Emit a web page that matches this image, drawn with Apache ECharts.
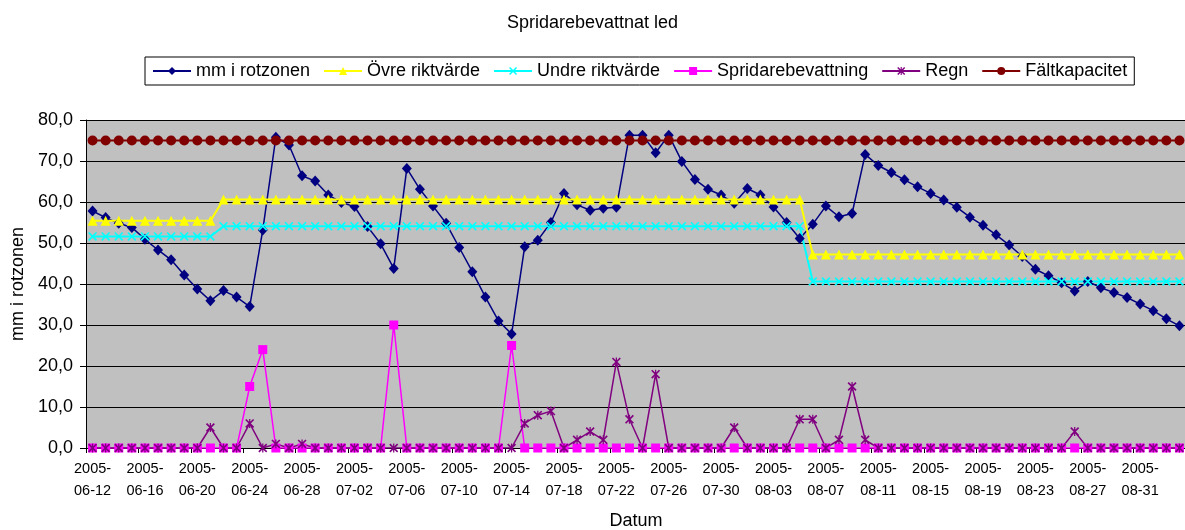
<!DOCTYPE html>
<html>
<head>
<meta charset="utf-8">
<script src="https://cdn.jsdelivr.net/npm/echarts@6/dist/echarts.min.js"></script>
<style>
  html, body { margin: 0; padding: 0; background: #fff; }
  #chart { width: 1185px; height: 530px; }
</style>
</head>
<body>
<div id="chart"></div>
<script>
// datum, en punkt per dag
var dates = [
  "2005-06-12","2005-06-13","2005-06-14","2005-06-15","2005-06-16","2005-06-17","2005-06-18",
  "2005-06-19","2005-06-20","2005-06-21","2005-06-22","2005-06-23","2005-06-24","2005-06-25",
  "2005-06-26","2005-06-27","2005-06-28","2005-06-29","2005-06-30","2005-07-01","2005-07-02",
  "2005-07-03","2005-07-04","2005-07-05","2005-07-06","2005-07-07","2005-07-08","2005-07-09",
  "2005-07-10","2005-07-11","2005-07-12","2005-07-13","2005-07-14","2005-07-15","2005-07-16",
  "2005-07-17","2005-07-18","2005-07-19","2005-07-20","2005-07-21","2005-07-22","2005-07-23",
  "2005-07-24","2005-07-25","2005-07-26","2005-07-27","2005-07-28","2005-07-29","2005-07-30",
  "2005-07-31","2005-08-01","2005-08-02","2005-08-03","2005-08-04","2005-08-05","2005-08-06",
  "2005-08-07","2005-08-08","2005-08-09","2005-08-10","2005-08-11","2005-08-12","2005-08-13",
  "2005-08-14","2005-08-15","2005-08-16","2005-08-17","2005-08-18","2005-08-19","2005-08-20",
  "2005-08-21","2005-08-22","2005-08-23","2005-08-24","2005-08-25","2005-08-26","2005-08-27",
  "2005-08-28","2005-08-29","2005-08-30","2005-08-31","2005-09-01","2005-09-02","2005-09-03"
];

var rotzonen = [
  57.8, 56.2, 54.8, 53.8, 50.9, 48.3, 45.9, 42.2, 38.8, 35.9, 38.4, 36.8,
  34.5, 53.2, 75.8, 73.9, 66.4, 65.1, 61.7, 59.9, 58.9, 54.0, 49.8, 43.8,
  68.2, 63.1, 59.0, 54.8, 48.9, 43.0, 36.8, 31.0, 27.8, 49.1, 50.7, 55.0,
  62.1, 59.3, 58.0, 58.5, 58.7, 76.3, 76.3, 72.0, 76.3, 69.9, 65.5, 63.1,
  61.7, 59.7, 63.3, 61.7, 58.8, 55.0, 51.1, 54.6, 59.0, 56.4, 57.2, 71.6,
  68.9, 67.2, 65.4, 63.7, 62.1, 60.5, 58.7, 56.3, 54.3, 52.0, 49.5, 46.7,
  43.6, 42.0, 40.3, 38.3, 40.6, 39.1, 37.9, 36.7, 35.1, 33.5, 31.5, 29.8
];

var ovre = [
  55.4, 55.4, 55.4, 55.4, 55.4, 55.4, 55.4, 55.4, 55.4, 55.4, 60.6, 60.6,
  60.6, 60.6, 60.6, 60.6, 60.6, 60.6, 60.6, 60.6, 60.6, 60.6, 60.6, 60.6,
  60.6, 60.6, 60.6, 60.6, 60.6, 60.6, 60.6, 60.6, 60.6, 60.6, 60.6, 60.6,
  60.6, 60.6, 60.6, 60.6, 60.6, 60.6, 60.6, 60.6, 60.6, 60.6, 60.6, 60.6,
  60.6, 60.6, 60.6, 60.6, 60.6, 60.6, 60.6, 47.2, 47.2, 47.2, 47.2, 47.2,
  47.2, 47.2, 47.2, 47.2, 47.2, 47.2, 47.2, 47.2, 47.2, 47.2, 47.2, 47.2,
  47.2, 47.2, 47.2, 47.2, 47.2, 47.2, 47.2, 47.2, 47.2, 47.2, 47.2, 47.2
];

var undre = [
  51.6, 51.6, 51.6, 51.6, 51.6, 51.6, 51.6, 51.6, 51.6, 51.6, 54.1, 54.1,
  54.1, 54.1, 54.1, 54.1, 54.1, 54.1, 54.1, 54.1, 54.1, 54.1, 54.1, 54.1,
  54.1, 54.1, 54.1, 54.1, 54.1, 54.1, 54.1, 54.1, 54.1, 54.1, 54.1, 54.1,
  54.1, 54.1, 54.1, 54.1, 54.1, 54.1, 54.1, 54.1, 54.1, 54.1, 54.1, 54.1,
  54.1, 54.1, 54.1, 54.1, 54.1, 54.1, 54.1, 40.6, 40.6, 40.6, 40.6, 40.6,
  40.6, 40.6, 40.6, 40.6, 40.6, 40.6, 40.6, 40.6, 40.6, 40.6, 40.6, 40.6,
  40.6, 40.6, 40.6, 40.6, 40.6, 40.6, 40.6, 40.6, 40.6, 40.6, 40.6, 40.6
];

var bevattning = [
  0, 0, 0, 0, 0, 0, 0, 0, 0, 0, 0, 0,
  15, 24, 0, 0, 0, 0, 0, 0, 0, 0, 0, 30,
  0, 0, 0, 0, 0, 0, 0, 0, 25, 0, 0, 0,
  0, 0, 0, 0, 0, 0, 0, 0, 0, 0, 0, 0,
  0, 0, 0, 0, 0, 0, 0, 0, 0, 0, 0, 0,
  0, 0, 0, 0, 0, 0, 0, 0, 0, 0, 0, 0,
  0, 0, 0, 0, 0, 0, 0, 0, 0, 0, 0, 0
];

var regn = [
  0, 0, 0, 0, 0, 0, 0, 0, 0, 5, 0, 0,
  6, 0, 1, 0, 1, 0, 0, 0, 0, 0, 0, 0,
  0, 0, 0, 0, 0, 0, 0, 0, 0, 6, 8, 9,
  0, 2, 4, 2, 21, 7, 0, 18, 0, 0, 0, 0,
  0, 5, 0, 0, 0, 0, 7, 7, 0, 2, 15, 2,
  0, 0, 0, 0, 0, 0, 0, 0, 0, 0, 0, 0,
  0, 0, 0, 4, 0, 0, 0, 0, 0, 0, 0, 0
];

var faltkapacitet = [
  75, 75, 75, 75, 75, 75, 75, 75, 75, 75, 75, 75,
  75, 75, 75, 75, 75, 75, 75, 75, 75, 75, 75, 75,
  75, 75, 75, 75, 75, 75, 75, 75, 75, 75, 75, 75,
  75, 75, 75, 75, 75, 75, 75, 75, 75, 75, 75, 75,
  75, 75, 75, 75, 75, 75, 75, 75, 75, 75, 75, 75,
  75, 75, 75, 75, 75, 75, 75, 75, 75, 75, 75, 75,
  75, 75, 75, 75, 75, 75, 75, 75, 75, 75, 75, 75
];

var FONT = "'Liberation Sans', Arial, sans-serif";
// kryss och stjärna som i Excel
var X_PATH = "path://M0,1.3L1.3,0L10,8.7L8.7,10Z M8.7,0L10,1.3L1.3,10L0,8.7Z";
var STAR_PATH = X_PATH + " M4.3,0L5.7,0L5.7,10L4.3,10Z";

function lineSeries(name, data, color, symbol, size, width) {
  return {
    name: name,
    type: "line",
    data: data,
    symbol: symbol,
    symbolSize: size,
    showAllSymbol: true,
    lineStyle: { color: color, width: width },
    itemStyle: { color: color, borderColor: color, borderWidth: 0 }
  };
}

var chart = echarts.init(document.getElementById("chart"));
chart.setOption({
  animation: false,
  textStyle: { fontFamily: FONT },
  title: {
    text: "Spridarebevattnat led",
    left: "center",
    top: 9,
    textStyle: { fontFamily: FONT, fontSize: 18, fontWeight: "normal", color: "#000" }
  },
  legend: {
    left: 145,
    top: 57,
    padding: [5, 7],
    itemGap: 13,
    itemWidth: 38,
    itemHeight: 10,
    backgroundColor: "#fff",
    borderColor: "#000",
    borderWidth: 1,
    borderRadius: 0,
    textStyle: { fontFamily: FONT, fontSize: 18, color: "#000", lineHeight: 18 },
    data: ["mm i rotzonen", "Övre riktvärde", "Undre riktvärde", "Spridarebevattning", "Regn", "Fältkapacitet"]
  },
  grid: {
    left: 86,
    right: -1,
    top: 120,
    bottom: 82,
    outerBoundsMode: "none",
    containLabel: false,
    show: true,
    backgroundColor: "#C0C0C0",
    borderWidth: 0
  },
  xAxis: {
    type: "category",
    data: dates,
    boundaryGap: true,
    name: "Datum",
    nameLocation: "middle",
    nameGap: 64,
    nameTextStyle: { fontFamily: FONT, fontSize: 18, color: "#000" },
    axisLine: { lineStyle: { color: "#000", width: 1 } },
    axisTick: { show: true, interval: 3, length: 5, lineStyle: { color: "#000" } },
    axisLabel: {
      interval: 3,
      margin: 10,
      fontFamily: FONT,
      fontSize: 14.5,
      lineHeight: 22,
      color: "#000",
      formatter: function (v) { return v.slice(0, 5) + "\n" + v.slice(5); }
    },
    splitLine: { show: false }
  },
  yAxis: {
    type: "value",
    min: 0,
    max: 80,
    interval: 10,
    name: "mm i rotzonen",
    nameLocation: "middle",
    nameGap: 58,
    nameTextStyle: { fontFamily: FONT, fontSize: 18, color: "#000" },
    axisLine: { show: true, lineStyle: { color: "#000", width: 1 } },
    axisTick: { show: true, length: 6, lineStyle: { color: "#000" } },
    axisLabel: {
      margin: 13,
      fontFamily: FONT,
      fontSize: 18,
      color: "#000",
      formatter: function (v) { return v.toFixed(1).replace(".", ","); }
    },
    splitLine: { show: true, lineStyle: { color: "#000", width: 1 } }
  },
  series: [
    lineSeries("mm i rotzonen", rotzonen, "#000080", "diamond", [10, 11], 1.5),
    lineSeries("Övre riktvärde", ovre, "#FFFF00", "triangle", 10, 2),
    lineSeries("Undre riktvärde", undre, "#00FFFF", X_PATH, 9, 2),
    lineSeries("Spridarebevattning", bevattning, "#FF00FF", "rect", 9, 1.5),
    lineSeries("Regn", regn, "#800080", STAR_PATH, 9, 1.5),
    lineSeries("Fältkapacitet", faltkapacitet, "#800000", "circle", 10, 2)
  ]
});
</script>
</body>
</html>
